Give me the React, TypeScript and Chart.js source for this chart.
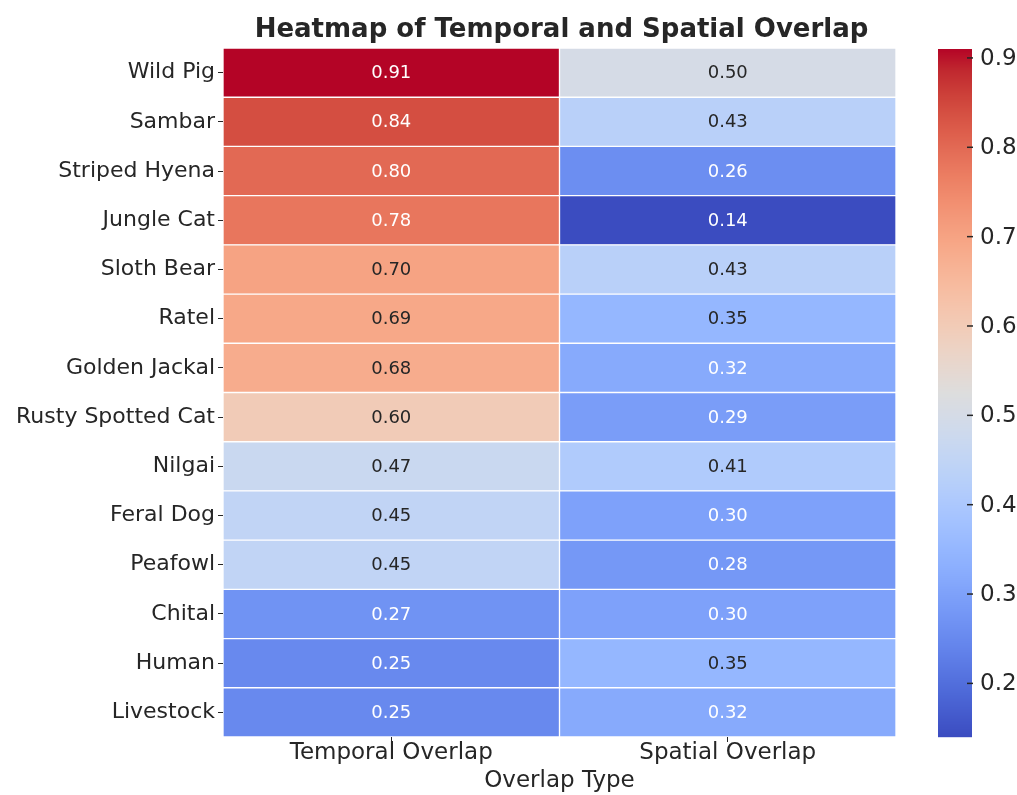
import React, { useEffect, useRef } from "react";
import { Chart, registerables } from "chart.js";

Chart.register(...registerables);

const species = [
  "Wild Pig",
  "Sambar",
  "Striped Hyena",
  "Jungle Cat",
  "Sloth Bear",
  "Ratel",
  "Golden Jackal",
  "Rusty Spotted Cat",
  "Nilgai",
  "Feral Dog",
  "Peafowl",
  "Chital",
  "Human",
  "Livestock",
];
const overlapTypes = ["Temporal Overlap", "Spatial Overlap"];
const temporalOverlap = [0.91, 0.84, 0.8, 0.78, 0.7, 0.69, 0.68, 0.6, 0.47, 0.45, 0.45, 0.27, 0.25, 0.25];
const spatialOverlap = [0.5, 0.43, 0.26, 0.14, 0.43, 0.35, 0.32, 0.29, 0.41, 0.3, 0.28, 0.3, 0.35, 0.32];
const colorbarTicks = [0.2, 0.3, 0.4, 0.5, 0.6, 0.7, 0.8, 0.9];
const chartTitle = "Heatmap of Temporal and Spatial Overlap";
const xAxisTitle = "Overlap Type";

const COOLWARM: number[][] = [
  [59, 76, 192], [68, 90, 204], [77, 104, 215], [87, 117, 225], [98, 130, 234],
  [108, 142, 241], [119, 154, 247], [130, 165, 251], [141, 176, 254], [152, 185, 255],
  [163, 194, 255], [174, 201, 253], [184, 208, 249], [194, 213, 244], [204, 217, 238],
  [213, 219, 230], [221, 221, 221], [229, 216, 209], [236, 211, 197], [241, 204, 184],
  [245, 196, 172], [247, 187, 159], [247, 177, 147], [247, 166, 134], [244, 154, 123],
  [241, 141, 111], [236, 127, 99], [229, 112, 89], [222, 96, 77], [213, 80, 66],
  [203, 62, 56], [192, 40, 47], [180, 4, 38],
];

function coolwarmRGB(t: number): number[] {
  const c = Math.max(0, Math.min(1, t));
  const n = COOLWARM.length - 1;
  const f = c * n;
  const i = Math.min(Math.floor(f), n - 1);
  const r = f - i;
  const a = COOLWARM[i];
  const b = COOLWARM[i + 1];
  return [0, 1, 2].map((k) => a[k] + (b[k] - a[k]) * r);
}

const allValues = [...temporalOverlap, ...spatialOverlap];
const vmin = Math.min(...allValues);
const vmax = Math.max(...allValues);
const norm = (v: number) => (v - vmin) / (vmax - vmin);

function rgbStr(c: number[]) {
  return `rgb(${Math.round(c[0])},${Math.round(c[1])},${Math.round(c[2])})`;
}

function luminance(c: number[]) {
  const lin = c.map((x) => {
    const s = x / 255;
    return s <= 0.03928 ? s / 12.92 : Math.pow((s + 0.055) / 1.055, 2.4);
  });
  return 0.2126 * lin[0] + 0.7152 * lin[1] + 0.0722 * lin[2];
}

const FONT = "'DejaVu Sans', sans-serif";
const TEXT = "#262626";

const heatmapPlugin = {
  id: "heatmapExtras",
  afterDatasetsDraw(chart: any) {
    const ctx = chart.ctx;
    ctx.save();
    ctx.font = `18px ${FONT}`;
    ctx.textAlign = "center";
    ctx.textBaseline = "middle";
    chart.data.datasets.forEach((ds: any, di: number) => {
      const meta = chart.getDatasetMeta(di);
      meta.data.forEach((el: any, i: number) => {
        const v = ds.values[i];
        const col = coolwarmRGB(norm(v));
        ctx.fillStyle = luminance(col) > 0.415 ? TEXT : "#ffffff";
        const p = el.getCenterPoint();
        ctx.fillText(v.toFixed(2), p.x, p.y + 1);
      });
    });
    ctx.restore();
  },
  afterDraw(chart: any) {
    const ctx = chart.ctx;
    const area = chart.chartArea;
    ctx.save();
    // title
    ctx.font = `bold 26px ${FONT}`;
    ctx.fillStyle = TEXT;
    ctx.textAlign = "center";
    ctx.textBaseline = "middle";
    ctx.fillText(chartTitle, (area.left + area.right) / 2 + 2, 30);
    // colorbar
    const x0 = area.right + 42;
    const w = 34;
    const top = area.top + 1;
    const bottom = area.bottom;
    const h = bottom - top;
    for (let y = 0; y < h; y++) {
      const t = 1 - (y + 0.5) / h;
      ctx.fillStyle = rgbStr(coolwarmRGB(t));
      ctx.fillRect(x0, top + y, w, 1.2);
    }
    ctx.strokeStyle = TEXT;
    ctx.lineWidth = 1.5;
    ctx.font = `23px ${FONT}`;
    ctx.textAlign = "left";
    ctx.fillStyle = TEXT;
    colorbarTicks.forEach((v) => {
      const y = bottom - norm(v) * h;
      ctx.beginPath();
      ctx.moveTo(x0 + w - 5, y);
      ctx.lineTo(x0 + w + 1, y);
      ctx.stroke();
      ctx.fillText(v.toFixed(1), x0 + w + 8, y + 1);
    });
    ctx.restore();
  },
};

export default function App() {
  const canvasRef = useRef<HTMLCanvasElement | null>(null);

  useEffect(() => {
    if (!canvasRef.current) return;
    Chart.defaults.font.family = FONT;
    const columnValues = [temporalOverlap, spatialOverlap];
    const chart = new Chart(canvasRef.current, {
      type: "bar",
      data: {
        labels: species,
        datasets: overlapTypes.map((name, c) => ({
          label: name,
          values: columnValues[c],
          data: species.map(() => [c, c + 1]),
          backgroundColor: columnValues[c].map((v) => rgbStr(coolwarmRGB(norm(v)))),
          borderColor: "#ffffff",
          borderWidth: 1,
          borderSkipped: false,
          grouped: false,
          barPercentage: 1,
          categoryPercentage: 1,
        })) as any,
      },
      options: {
        animation: false,
        responsive: true,
        maintainAspectRatio: false,
        indexAxis: "y",
        layout: { padding: { left: 0, right: 121, top: 48, bottom: 0 } },
        plugins: {
          legend: { display: false },
          tooltip: { enabled: false },
          title: { display: false },
        },
        scales: {
          x: {
            type: "linear",
            min: 0,
            max: 2,
            afterBuildTicks: (scale: any) => {
              scale.ticks = [{ value: 0.5 }, { value: 1.5 }];
            },
            afterFit: (scale: any) => {
              scale.height = 58;
            },
            ticks: {
              font: { size: 23, lineHeight: 1 },
              color: TEXT,
              padding: 0,
              maxRotation: 0,
              autoSkip: false,
              callback: (v: any) => overlapTypes[Math.floor(Number(v))],
            },
            grid: { drawOnChartArea: false, drawTicks: true, tickLength: 5, color: TEXT },
            border: { display: false },
            title: {
              display: true,
              text: xAxisTitle,
              font: { size: 23, lineHeight: 1.2 },
              color: TEXT,
              padding: { top: 0, bottom: 0 },
            },
          },
          y: {
            type: "category",
            offset: true,
            afterFit: (scale: any) => {
              scale.width = 223;
            },
            ticks: { font: { size: 22 }, color: TEXT, padding: 3, autoSkip: false },
            grid: { offset: false, drawOnChartArea: false, drawTicks: true, tickLength: 5, color: TEXT },
            border: { display: false },
          },
        },
      },
      plugins: [heatmapPlugin],
    } as any);
    return () => chart.destroy();
  }, []);

  return (
    <div style={{ position: "absolute", left: 0, top: 0, width: 1017, height: 795, background: "#fff" }}>
      <canvas ref={canvasRef} />
    </div>
  );
}
